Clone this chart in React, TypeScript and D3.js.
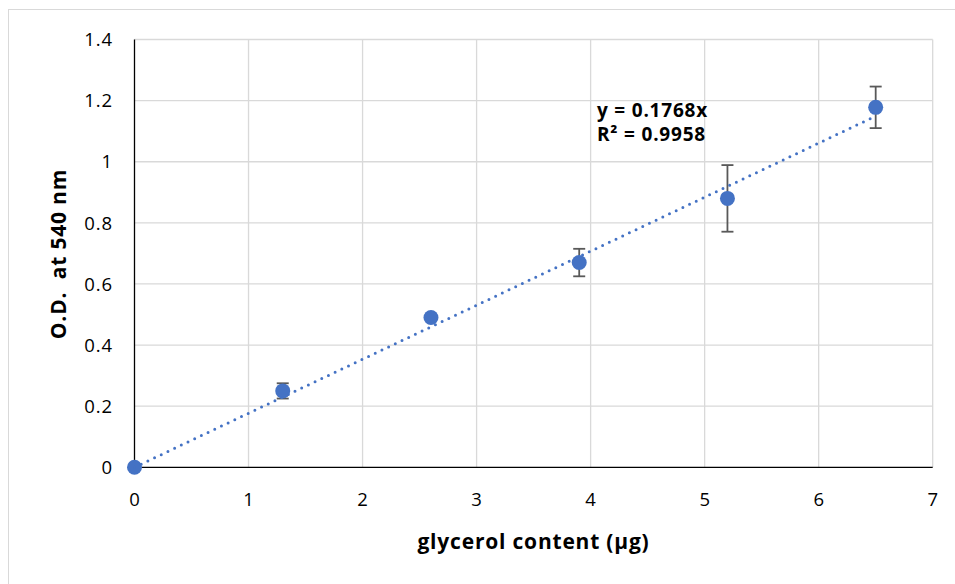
import React from "react";
import * as d3 from "d3";

// Glycerol standard curve: mean O.D. with standard deviation
const glycerolUg = [0, 1.3, 2.6, 3.9, 5.2, 6.5];
const odMean = [0, 0.25, 0.49, 0.67, 0.88, 1.178];
const odSd = [0, 0.025, 0, 0.045, 0.109, 0.068];
const xTicks = [0, 1, 2, 3, 4, 5, 6, 7];
const yTicks = [0, 0.2, 0.4, 0.6, 0.8, 1, 1.2, 1.4];
const slope = 0.1768;
const rSquared = 0.9958;

const W = 955;
const H = 584;
const plot = { left: 134.5, right: 932.7, top: 39.5, bottom: 467.3 };
const blue = "#4472C4";
const font = "'Open Sans', 'Liberation Sans', sans-serif";

export default function App() {
  const x = d3.scaleLinear().domain([0, 7]).range([plot.left, plot.right]);
  const y = d3.scaleLinear().domain([0, 1.4]).range([plot.bottom, plot.top]);
  const trend = d3.line<number>()
    .x((d) => x(d))
    .y((d) => y(slope * d))([0, glycerolUg[glycerolUg.length - 1]]);

  return (
    <svg width={W} height={H} style={{ position: "absolute", left: 0, top: 0 }}>
      <rect x={0} y={0} width={W} height={H} fill="#fff" />
      <rect x={8.5} y={9.5} width={W + 20} height={H + 20} fill="none" stroke="#d9d9d9" strokeWidth={1} />

      {/* gridlines */}
      {yTicks.slice(1).map((t) => (
        <line key={"gy" + t} x1={plot.left} x2={plot.right} y1={y(t)} y2={y(t)} stroke="#d9d9d9" strokeWidth={1.3} />
      ))}
      {xTicks.slice(1).map((t) => (
        <line key={"gx" + t} x1={x(t)} x2={x(t)} y1={plot.top} y2={plot.bottom} stroke="#d9d9d9" strokeWidth={1.3} />
      ))}

      {/* axes */}
      <line x1={plot.left} x2={plot.left} y1={plot.top} y2={plot.bottom} stroke="#000" strokeWidth={1.3} />
      <line x1={plot.left} x2={plot.right} y1={plot.bottom} y2={plot.bottom} stroke="#000" strokeWidth={1.3} />

      {/* tick labels */}
      {yTicks.map((t) => (
        <text key={"ty" + t} x={plot.left - 21.5} y={y(t)} dy="0.36em" textAnchor="end" fontFamily={font} fontSize={18.5} letterSpacing={0.9} fill="#000">
          {d3.format("~g")(t)}
        </text>
      ))}
      {xTicks.map((t) => (
        <text key={"tx" + t} x={x(t) + 0.5} y={plot.bottom + 39} textAnchor="middle" fontFamily={font} fontSize={18.5} letterSpacing={0.9} fill="#000">
          {t}
        </text>
      ))}

      {/* axis titles */}
      <text x={533.5} y={549} textAnchor="middle" fontFamily={font} fontWeight="bold" fontSize={21} letterSpacing={0.8} fill="#000">
        glycerol content (µg)
      </text>
      <text transform={`translate(66, 254) rotate(-90)`} textAnchor="middle" fontFamily={font} fontWeight="bold" fontSize={21} letterSpacing={0.8} fill="#000" style={{ whiteSpace: "pre" }}>
        {"O.D.  at 540 nm"}
      </text>

      {/* error bars */}
      {glycerolUg.map((g, i) =>
        odSd[i] > 0 ? (
          <g key={"e" + i} stroke="#595959" strokeWidth={1.8}>
            <line x1={x(g)} x2={x(g)} y1={y(odMean[i] - odSd[i])} y2={y(odMean[i] + odSd[i])} />
            <line x1={x(g) - 6} x2={x(g) + 6} y1={y(odMean[i] - odSd[i])} y2={y(odMean[i] - odSd[i])} />
            <line x1={x(g) - 6} x2={x(g) + 6} y1={y(odMean[i] + odSd[i])} y2={y(odMean[i] + odSd[i])} />
          </g>
        ) : null
      )}

      {/* data points */}
      {glycerolUg.map((g, i) => (
        <circle key={"p" + i} cx={x(g)} cy={y(odMean[i])} r={7.5} fill={blue} />
      ))}

      {/* linear trendline through origin */}
      <path d={trend ?? ""} fill="none" stroke={blue} strokeWidth={3} strokeLinecap="round" strokeDasharray="0 7.4" />

      {/* trendline equation */}
      <text x={597} y={117} fontFamily={font} fontWeight="bold" fontSize={19} letterSpacing={0.8} fill="#000">
        {`y = ${slope}x`}
      </text>
      <text x={597} y={141} fontFamily={font} fontWeight="bold" fontSize={19} letterSpacing={0.8} fill="#000">
        {`R² = ${rSquared}`}
      </text>
    </svg>
  );
}
